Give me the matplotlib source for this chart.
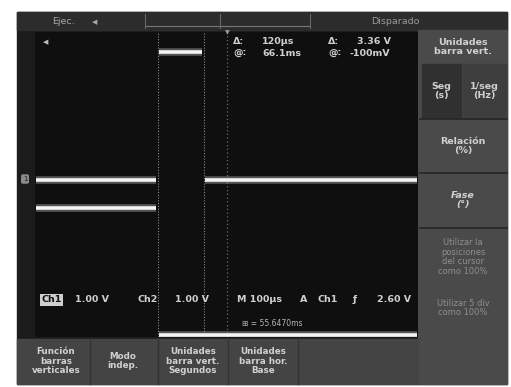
import matplotlib.pyplot as plt
from matplotlib.patches import Rectangle

# osciloscopio: 100 us/div, 1.00 V/div, tiempo relativo al disparo (us)
t_edges = [-500, -180, -60, 500]
ch1_levels = [0.0, 3.36, 0.0]   # V
ch2_levels = [3.32, 0.0, 0.0]   # V
ch1_ref = 0.12                  # posicion de tierra, div
ch2_ref = -3.94
volts_div = 1.0
cursors = [-180, -60]

readout_top = [("Δ:", "120μs", "Δ:", "3.36 V"), ("@:", "66.1ms", "@:", "-100mV")]
readout_bottom = ["1.00 V", "Ch2", "1.00 V", "M 100μs", "A", "Ch1", "ƒ", "2.60 V"]
side_menu = ["Relación\n(%)", "Fase\n(°)"]
side_dim = ["Utilizar la\nposiciones\ndel cursor\ncomo 100%", "Utilizar 5 div\ncomo 100%"]
bottom_menu = ["Función\nbarras\nverticales", "Modo\nindep.",
               "Unidades\nbarra vert.\nSegundos", "Unidades\nbarra hor.\nBase"]

W, H = 511, 387


def fbox(x0, y0, x1, y1):
    return [x0 / W, 1 - y1 / H, (x1 - x0) / W, (y1 - y0) / H]


fig = plt.figure(figsize=(W / 100, H / 100), dpi=100)
fig.patch.set_facecolor('white')

# fondo de la pantalla
bg = fig.add_axes([0, 0, 1, 1], zorder=0)
bg.set_xlim(0, W)
bg.set_ylim(H, 0)
bg.axis('off')
bg.add_patch(Rectangle((17, 12), 490, 372, color='#1c1c1c'))
bg.add_patch(Rectangle((17, 12), 490, 18, color='#2c2c2c'))
bg.add_patch(Rectangle((418, 30), 89, 354, color='#4a4a4a'))
bg.add_patch(Rectangle((17, 339), 401, 45, color='#444444'))
bg.add_patch(Rectangle((422, 64), 39, 54, color='#303030'))
bg.add_patch(Rectangle((463, 64), 43, 54, color='#3e3e3e'))
for y in [119, 173, 228]:
    bg.plot([420, 507], [y, y], color='#262626', lw=1.2)
for x in [90, 158, 228, 298]:
    bg.plot([x, x], [340, 384], color='#333333', lw=1)
bg.plot([145, 310], [26, 26], color='#777777', lw=0.8)
for x in [145, 220, 310]:
    bg.plot([x, x], [14, 28], color='#666666', lw=0.8)

# area de trazas
ax = fig.add_axes(fbox(35, 32, 418, 337), zorder=1)
ax.set_facecolor('#0f0f0f')
ax.set_xlim(-500, 500)
ax.set_ylim(-4, 4)
ax.set_xticks([])
ax.set_yticks([])
for s in ax.spines.values():
    s.set_visible(False)

ax.axvline(0, color='#6a6a6a', lw=0.9, ls=(0, (1, 2)))
for c in cursors:
    ax.axvline(c, color='#8a8a8a', lw=0.8, ls=(0, (1, 1.5)))

gap = 4
for levels, ref in [(ch1_levels, ch1_ref), (ch2_levels, ch2_ref)]:
    for i, v in enumerate(levels):
        if i > 0 and v == levels[i - 1]:
            continue
        j = i
        while j + 1 < len(levels) and levels[j + 1] == v:
            j += 1
        t0 = t_edges[i] + (gap if i > 0 else 2)
        t1 = t_edges[j + 1] - (gap if j + 1 < len(levels) else 2)
        y = v / volts_div + ref
        ax.plot([t0, t1], [y, y], color='#bdbdbd', lw=5.5, alpha=0.4,
                solid_capstyle='butt')
        ax.plot([t0, t1], [y, y], color='#f4f4f4', lw=2.6, solid_capstyle='butt')

# textos
fg = fig.add_axes([0, 0, 1, 1], zorder=2)
fg.set_xlim(0, W)
fg.set_ylim(H, 0)
fg.axis('off')

txt = '#d0d0d0'
dim = '#8e8e8e'
fs = 6.8
bw = 'bold'

fg.text(52, 21, "Ejec.", color='#a8a8a8', fontsize=fs, va='center')
fg.text(92, 22, "◀", color='#a8a8a8', fontsize=5, va='center')
fg.text(395, 21, "Disparado", color='#9a9a9a', fontsize=fs, ha='center', va='center')

fg.text(46, 42, "◀", color='#bbbbbb', fontsize=5, ha='center', va='center')
fg.text(25, 179, "1", color='#222222', fontsize=5, ha='center', va='center',
        bbox=dict(boxstyle='round,pad=0.25', fc='#8a8a8a', ec='none'))
fg.text(227, 33, "▼", color='#9a9a9a', fontsize=4.5, ha='center', va='center')

for k, (a, b, c, d) in enumerate(readout_top):
    y = 42 + 11 * k
    fg.text(233, y, a, color=txt, fontsize=fs, va='center', weight=bw)
    fg.text(262, y, b, color=txt, fontsize=fs, va='center', weight=bw)
    fg.text(328, y, c, color=txt, fontsize=fs, va='center', weight=bw)
    fg.text(350 if k else 357, y, d, color=txt, fontsize=fs, va='center', weight=bw)

fg.text(41, 300, "Ch1", color='#111111', fontsize=fs, va='center', weight=bw,
        bbox=dict(boxstyle='square,pad=0.15', fc='#cfcfcf', ec='none'))
for x, s in zip([75, 137, 175, 237, 300, 318, 353, 377], readout_bottom):
    fg.text(x, 300, s, color=txt, fontsize=fs, va='center', weight=bw)
fg.text(242, 323, "⊞ = 55.6470ms", color='#b5b5b5', fontsize=5.5, va='center')

fg.text(463, 47, "Unidades\nbarra vert.", color=txt, fontsize=fs, ha='center',
        va='center', linespacing=1.1, weight=bw)
fg.text(441, 91, "Seg\n(s)", color=txt, fontsize=fs, ha='center', va='center',
        linespacing=1.1, weight=bw)
fg.text(484, 91, "1/seg\n(Hz)", color=txt, fontsize=fs, ha='center', va='center',
        linespacing=1.1, weight=bw)
for y, s in zip([146, 200], side_menu):
    fg.text(463, y, s, color=txt, fontsize=fs, ha='center', va='center', weight=bw,
            linespacing=1.1, style='italic' if s.startswith('Fase') else 'normal')
for y, s in zip([257, 308], side_dim):
    fg.text(463, y, s, color=dim, fontsize=6, ha='center', va='center',
            linespacing=1.1)

for x, s in zip([56, 123, 193, 263], bottom_menu):
    fg.text(x, 361, s, color=txt, fontsize=6.3, ha='center', va='center',
            linespacing=1.05, weight=bw)

fig.savefig("out.png", dpi=100)
